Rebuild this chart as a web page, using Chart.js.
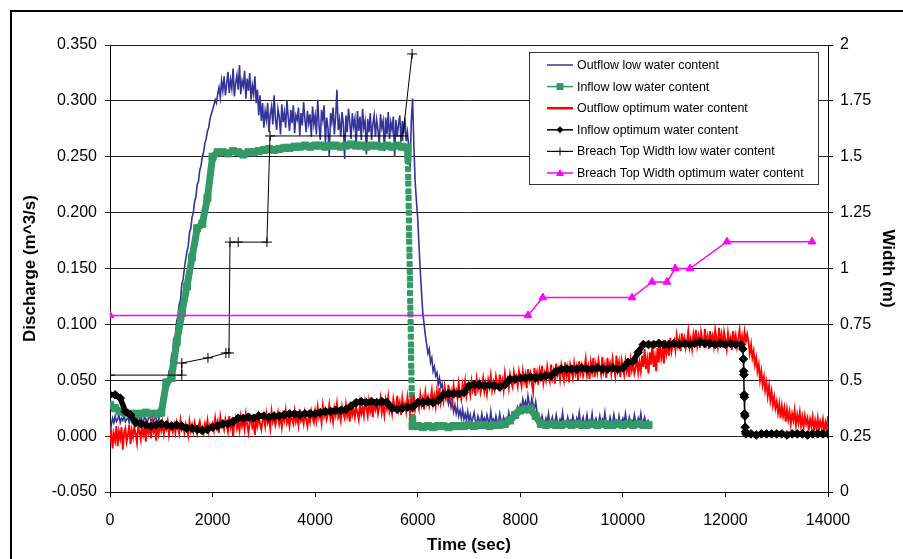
<!DOCTYPE html>
<html>
<head>
<meta charset="utf-8">
<title>Discharge and breach width</title>
<script src="https://cdn.jsdelivr.net/npm/chart.js@4/dist/chart.umd.min.js"></script>
<style>
  html, body { margin: 0; padding: 0; background: #ffffff; }
  canvas { display: block; }
</style>
</head>
<body>
<canvas id="chart" width="903" height="559"></canvas>
<script>
// ---- Recorded series -------------------------------------------------------
// Outflow records are logged every 25 s, inflow records every 100 s.
const OUTFLOW_STEP = 25;
const INFLOW_STEP = 100;

// Outflow, low water content (m^3/s), t = 0 … 10500 s (one row per 1000 s)
const outflowLow = [
  0.000, 0.010, 0.016, 0.012, 0.018, 0.013, 0.015, 0.019, 0.012, 0.016, 0.014, 0.018, 0.013, 0.015, 0.017, 0.012, 0.016, 0.014, 0.019, 0.013,
  0.015, 0.017, 0.012, 0.016, 0.018, 0.014, 0.013, 0.017, 0.015, 0.012, 0.016, 0.018, 0.014, 0.015, 0.013, 0.017, 0.016, 0.012, 0.015, 0.018,

  0.018, 0.022, 0.030, 0.033, 0.042, 0.045, 0.058, 0.060, 0.072, 0.076, 0.088, 0.090, 0.103, 0.107, 0.118, 0.122, 0.136, 0.140, 0.150, 0.158,
  0.165, 0.170, 0.182, 0.186, 0.196, 0.200, 0.210, 0.214, 0.225, 0.228, 0.238, 0.242, 0.250, 0.254, 0.262, 0.266, 0.273, 0.276, 0.284, 0.288,

  0.292, 0.296, 0.301, 0.298, 0.306, 0.312, 0.303, 0.318, 0.309, 0.322, 0.305, 0.315, 0.326, 0.307, 0.319, 0.311, 0.329, 0.304, 0.316, 0.323,
  0.310, 0.332, 0.306, 0.318, 0.313, 0.327, 0.302, 0.320, 0.309, 0.325, 0.301, 0.314, 0.306, 0.322, 0.298, 0.310, 0.287, 0.305, 0.282, 0.298,

  0.276, 0.291, 0.283, 0.298, 0.272, 0.288, 0.295, 0.279, 0.305, 0.284, 0.274, 0.293, 0.286, 0.270, 0.297, 0.281, 0.290, 0.276, 0.300, 0.285,
  0.273, 0.292, 0.280, 0.296, 0.271, 0.287, 0.283, 0.294, 0.269, 0.289, 0.278, 0.299, 0.284, 0.272, 0.291, 0.280, 0.288, 0.268, 0.295, 0.279,

  0.287, 0.270, 0.301, 0.279, 0.265, 0.292, 0.283, 0.296, 0.262, 0.285, 0.276, 0.250, 0.289, 0.281, 0.294, 0.270, 0.286, 0.310, 0.274, 0.283,
  0.268, 0.290, 0.279, 0.248, 0.287, 0.272, 0.293, 0.281, 0.266, 0.289, 0.277, 0.284, 0.258, 0.291, 0.273, 0.286, 0.265, 0.293, 0.276, 0.282,

  0.252, 0.284, 0.272, 0.289, 0.265, 0.279, 0.287, 0.268, 0.283, 0.274, 0.261, 0.288, 0.276, 0.282, 0.255, 0.285, 0.270, 0.290, 0.266, 0.281,
  0.274, 0.286, 0.250, 0.283, 0.268, 0.279, 0.287, 0.263, 0.282, 0.271, 0.285, 0.264, 0.272, 0.258, 0.240, 0.282, 0.302, 0.260, 0.228, 0.210,

  0.195, 0.170, 0.148, 0.128, 0.110, 0.100, 0.090, 0.082, 0.074, 0.078, 0.066, 0.070, 0.058, 0.062, 0.054, 0.057, 0.046, 0.052, 0.044, 0.047,
  0.036, 0.041, 0.033, 0.038, 0.029, 0.034, 0.026, 0.031, 0.022, 0.028, 0.020, 0.026, 0.018, 0.023, 0.016, 0.024, 0.015, 0.020, 0.014, 0.022,

  0.014, 0.019, 0.012, 0.016, 0.021, 0.013, 0.011, 0.018, 0.014, 0.012, 0.020, 0.013, 0.016, 0.011, 0.019, 0.014, 0.012, 0.022, 0.013, 0.015,
  0.011, 0.018, 0.013, 0.012, 0.020, 0.014, 0.011, 0.017, 0.013, 0.016, 0.012, 0.021, 0.014, 0.015, 0.019, 0.016, 0.022, 0.018, 0.026, 0.023,

  0.028, 0.025, 0.033, 0.027, 0.031, 0.024, 0.036, 0.029, 0.026, 0.034, 0.028, 0.024, 0.031, 0.022, 0.019, 0.017, 0.013, 0.018, 0.012, 0.011,
  0.016, 0.012, 0.020, 0.011, 0.013, 0.017, 0.010, 0.012, 0.019, 0.012, 0.011, 0.015, 0.012, 0.021, 0.011, 0.013, 0.010, 0.017, 0.012, 0.014,

  0.011, 0.018, 0.012, 0.010, 0.016, 0.012, 0.021, 0.011, 0.013, 0.017, 0.010, 0.012, 0.019, 0.011, 0.014, 0.012, 0.020, 0.010, 0.013, 0.016,
  0.011, 0.012, 0.018, 0.010, 0.015, 0.012, 0.021, 0.011, 0.013, 0.010, 0.017, 0.012, 0.011, 0.019, 0.012, 0.014, 0.010, 0.018, 0.011, 0.013,

  0.016, 0.011, 0.020, 0.012, 0.010, 0.017, 0.012, 0.014, 0.011, 0.019, 0.012, 0.010, 0.016, 0.012, 0.020, 0.011, 0.013, 0.017, 0.011, 0.012,
  0.015
];

// Inflow, low water content (m^3/s), t = 0 … 10500 s
const inflowLow = [
  0.028, 0.025, 0.022, 0.021, 0.020, 0.020, 0.020, 0.021, 0.020, 0.020,
  0.021, 0.048, 0.052, 0.084, 0.110, 0.134, 0.160, 0.186, 0.190, 0.213,
  0.250, 0.254, 0.254, 0.253, 0.255, 0.254, 0.252, 0.254, 0.254, 0.255,
  0.256, 0.257, 0.256, 0.257, 0.258, 0.258, 0.259, 0.259, 0.260, 0.259,
  0.260, 0.260, 0.259, 0.260, 0.260, 0.259, 0.260, 0.261, 0.260, 0.260,
  0.259, 0.260, 0.260, 0.259, 0.260, 0.259, 0.260, 0.259, 0.258, 0.009,
  0.009, 0.008, 0.009, 0.008, 0.009, 0.009, 0.008, 0.009, 0.009, 0.009,
  0.010, 0.009, 0.010, 0.010, 0.009, 0.010, 0.010, 0.011, 0.014, 0.019,
  0.023, 0.024, 0.024, 0.018, 0.011, 0.010, 0.011, 0.010, 0.010, 0.011,
  0.010, 0.011, 0.010, 0.010, 0.011, 0.010, 0.011, 0.010, 0.010, 0.011,
  0.010, 0.011, 0.010, 0.011, 0.010, 0.010
];
// Fast-logged readings while the inflow was shut off
const inflowLowDropTime = [
  5810, 5813, 5815, 5817, 5819, 5822, 5824, 5826, 5829, 5831, 5833, 5835,
  5838, 5840, 5842, 5845, 5847, 5849, 5851, 5854, 5856, 5858, 5861, 5863,
  5865, 5867, 5870, 5872, 5874, 5877, 5879, 5881, 5884, 5886, 5888, 5890
];
const inflowLowDrop = [
  0.246, 0.239, 0.232, 0.226, 0.219, 0.213, 0.206, 0.200, 0.193, 0.186, 0.180, 0.174,
  0.167, 0.161, 0.154, 0.147, 0.141, 0.135, 0.128, 0.121, 0.115, 0.109, 0.102, 0.096,
  0.089, 0.082, 0.076, 0.070, 0.063, 0.057, 0.050, 0.043, 0.037, 0.031, 0.024, 0.017
];

// Outflow, optimum water content (m^3/s), t = 0 … 14000 s (one row per 1000 s)
const outflowOpt = [
  -0.006, 0.006, -0.011, 0.002, -0.004, 0.009, -0.009, 0.004, -0.002, 0.008, -0.012, 0.003, 0.007, -0.005, 0.001, 0.010, -0.007, 0.005, -0.001, 0.008,
  0.002, -0.006, 0.009, 0.004, -0.003, 0.011, 0.001, 0.006, -0.005, 0.010, 0.003, 0.008, -0.002, 0.012, 0.004, 0.007, -0.004, 0.009, 0.002, 0.011,

  0.005, 0.012, 0.002, 0.009, 0.006, 0.013, 0.001, 0.008, 0.011, 0.004, 0.010, 0.003, 0.012, 0.007, 0.002, 0.014, 0.006, 0.009, 0.003, 0.011,
  0.008, 0.001, 0.013, 0.005, 0.010, 0.004, 0.012, 0.007, 0.002, 0.009, 0.013, 0.005, 0.008, 0.003, 0.011, 0.006, 0.014, 0.004, 0.010, 0.007,

  0.011, 0.005, 0.016, 0.008, 0.013, 0.003, 0.017, 0.009, 0.012, 0.006, 0.015, 0.010, 0.004, 0.018, 0.008, 0.013, 0.000, 0.011, 0.016, 0.007,
  0.012, 0.005, 0.017, 0.009, 0.014, 0.006, 0.019, 0.010, 0.003, 0.013, 0.016, 0.008, 0.012, 0.001, 0.015, 0.009, 0.018, 0.011, 0.006, 0.014,

  0.017, 0.009, 0.020, 0.012, 0.016, 0.007, 0.022, 0.013, 0.018, 0.010, 0.015, 0.021, 0.011, 0.017, 0.008, 0.019, 0.014, 0.023, 0.012, 0.016,
  0.009, 0.020, 0.015, 0.011, 0.022, 0.013, 0.018, 0.010, 0.024, 0.014, 0.017, 0.011, 0.021, 0.015, 0.009, 0.019, 0.013, 0.022, 0.016, 0.012,

  0.022, 0.014, 0.026, 0.017, 0.021, 0.012, 0.027, 0.018, 0.023, 0.015, 0.020, 0.028, 0.016, 0.022, 0.013, 0.025, 0.019, 0.029, 0.017, 0.021,
  0.014, 0.026, 0.020, 0.016, 0.028, 0.018, 0.023, 0.013, 0.030, 0.019, 0.024, 0.017, 0.027, 0.021, 0.015, 0.029, 0.020, 0.025, 0.018, 0.031,

  0.025, 0.018, 0.031, 0.022, 0.027, 0.017, 0.033, 0.024, 0.029, 0.020, 0.026, 0.034, 0.021, 0.028, 0.019, 0.032, 0.025, 0.035, 0.022, 0.027,
  0.020, 0.033, 0.026, 0.023, 0.036, 0.024, 0.030, 0.019, 0.034, 0.025, 0.029, 0.022, 0.035, 0.027, 0.021, 0.033, 0.026, 0.037, 0.024, 0.030,

  0.032, 0.025, 0.037, 0.028, 0.034, 0.024, 0.039, 0.030, 0.035, 0.027, 0.033, 0.041, 0.029, 0.036, 0.027, 0.040, 0.032, 0.043, 0.030, 0.037,
  0.031, 0.044, 0.036, 0.033, 0.046, 0.034, 0.040, 0.031, 0.045, 0.037, 0.041, 0.034, 0.047, 0.038, 0.033, 0.046, 0.039, 0.049, 0.036, 0.043,

  0.044, 0.037, 0.049, 0.041, 0.046, 0.036, 0.051, 0.042, 0.048, 0.039, 0.045, 0.052, 0.040, 0.047, 0.038, 0.050, 0.044, 0.054, 0.041, 0.048,
  0.042, 0.053, 0.046, 0.043, 0.055, 0.044, 0.050, 0.041, 0.056, 0.047, 0.051, 0.043, 0.055, 0.048, 0.044, 0.057, 0.049, 0.053, 0.045, 0.058,

  0.052, 0.045, 0.058, 0.049, 0.055, 0.043, 0.060, 0.050, 0.056, 0.047, 0.040, 0.061, 0.051, 0.057, 0.046, 0.059, 0.053, 0.063, 0.048, 0.056,
  0.050, 0.062, 0.054, 0.049, 0.064, 0.052, 0.058, 0.047, 0.065, 0.055, 0.060, 0.051, 0.063, 0.056, 0.050, 0.066, 0.054, 0.061, 0.048, 0.064,

  0.059, 0.052, 0.065, 0.056, 0.062, 0.050, 0.067, 0.057, 0.063, 0.054, 0.060, 0.069, 0.055, 0.062, 0.051, 0.066, 0.058, 0.070, 0.053, 0.064,
  0.057, 0.068, 0.061, 0.055, 0.071, 0.058, 0.064, 0.052, 0.070, 0.060, 0.065, 0.056, 0.069, 0.061, 0.054, 0.072, 0.059, 0.066, 0.053, 0.068,

  0.062, 0.055, 0.067, 0.058, 0.064, 0.053, 0.068, 0.059, 0.065, 0.056, 0.061, 0.070, 0.057, 0.066, 0.058, 0.072, 0.062, 0.078, 0.060, 0.069,
  0.056, 0.075, 0.064, 0.082, 0.062, 0.071, 0.058, 0.079, 0.066, 0.084, 0.070, 0.077, 0.065, 0.086, 0.074, 0.081, 0.072, 0.088, 0.076, 0.083,

  0.086, 0.077, 0.090, 0.081, 0.087, 0.076, 0.092, 0.083, 0.088, 0.079, 0.085, 0.094, 0.080, 0.087, 0.078, 0.091, 0.084, 0.095, 0.081, 0.089,
  0.079, 0.093, 0.086, 0.082, 0.096, 0.083, 0.089, 0.078, 0.094, 0.085, 0.090, 0.081, 0.095, 0.087, 0.080, 0.097, 0.084, 0.091, 0.079, 0.093,

  0.086, 0.078, 0.092, 0.083, 0.088, 0.077, 0.094, 0.084, 0.090, 0.080, 0.087, 0.095, 0.082, 0.089, 0.079, 0.093, 0.085, 0.091, 0.084, 0.074,
  0.082, 0.070, 0.076, 0.064, 0.070, 0.058, 0.064, 0.050, 0.058, 0.046, 0.053, 0.041, 0.048, 0.036, 0.045, 0.032, 0.040, 0.028, 0.035, 0.025,

  0.031, 0.021, 0.029, 0.016, 0.027, 0.018, 0.025, 0.013, 0.024, 0.015, 0.022, 0.011, 0.020, 0.014, 0.023, 0.010, 0.019, 0.012, 0.021, 0.009,
  0.017, 0.008, 0.018, 0.011, 0.016, 0.006, 0.015, 0.009, 0.017, 0.005, 0.014, 0.007, 0.016, 0.005, 0.013, 0.008, 0.015, 0.004, 0.012, 0.006,

  0.018
];

// Inflow, optimum water content (m^3/s), t = 0 … 14000 s
const inflowOpt = [
  0.037, 0.037, 0.034, 0.022, 0.019, 0.012, 0.011, 0.010, 0.009, 0.010,
  0.011, 0.010, 0.009, 0.010, 0.009, 0.007, 0.007, 0.006, 0.005, 0.006,
  0.008, 0.009, 0.011, 0.011, 0.013, 0.016, 0.016, 0.017, 0.016, 0.018,
  0.018, 0.017, 0.018, 0.018, 0.019, 0.020, 0.020, 0.019, 0.020, 0.020,
  0.020, 0.021, 0.022, 0.022, 0.023, 0.023, 0.024, 0.027, 0.030, 0.031,
  0.030, 0.031, 0.030, 0.031, 0.030, 0.025, 0.024, 0.025, 0.026, 0.026,
  0.030, 0.030, 0.031, 0.030, 0.032, 0.037, 0.038, 0.038, 0.038, 0.039,
  0.045, 0.046, 0.046, 0.045, 0.046, 0.045, 0.044, 0.046, 0.051, 0.051,
  0.052, 0.052, 0.053, 0.052, 0.053, 0.054, 0.054, 0.058, 0.060, 0.060,
  0.060, 0.060, 0.061, 0.060, 0.060, 0.061, 0.060, 0.060, 0.061, 0.060,
  0.061, 0.066, 0.067, 0.075, 0.082, 0.082, 0.082, 0.083, 0.082, 0.082,
  0.083, 0.082, 0.083, 0.082, 0.083, 0.084, 0.083, 0.083, 0.082, 0.083,
  0.082, 0.083, 0.082, 0.082, 0.002, 0.002, 0.001, 0.002, 0.002, 0.002,
  0.002, 0.002, 0.001, 0.002, 0.002, 0.002, 0.001, 0.002, 0.002, 0.002,
  0.002
];
const inflowOptDropTime = [12340, 12350, 12355, 12360, 12365, 12370, 12375, 12380, 12385, 12392];
const inflowOptDrop = [0.078, 0.069, 0.058, 0.055, 0.037, 0.035, 0.020, 0.018, 0.008, 0.004];

// Breach top width (m)
const breachLowTime = [0, 1400, 1400, 1910, 2260, 2320, 2340, 2500, 3060, 3120, 5710, 5890];
const breachLow = [0.523, 0.523, 0.577, 0.600, 0.622, 0.622, 1.118, 1.118, 1.118, 1.593, 1.593, 1.960];
const breachOptTime = [0, 8150, 8440, 10180, 10570, 10860, 11020, 11310, 12030, 13690];
const breachOpt = [0.79, 0.79, 0.87, 0.87, 0.94, 0.94, 1.00, 1.00, 1.12, 1.12];

const seriesNames = [
  'Outflow low water content',
  'Inflow low water content',
  'Outflow optimum water content',
  'Inflow optimum water content',
  'Breach Top Width low water content',
  'Breach Top Width optimum water content'
];

// ---- Point tables ------------------------------------------------------------
const regular = (vals, step) => vals.map((v, i) => ({ x: i * step, y: v }));
const paired = (ts, vs) => ts.map((t, i) => ({ x: t, y: vs[i] }));
const merged = (a, b) => a.concat(b).sort((p, q) => p.x - q.x);
const within = (ts, x) => x >= ts[0] && x <= ts[ts.length - 1];

const FONT = "'Liberation Sans', Arial, Helvetica, sans-serif";

// ---- Page frame and legend box -------------------------------------------------
const framePlugin = {
  id: 'frame',
  beforeDraw(chart) {
    const ctx = chart.ctx;
    ctx.save();
    ctx.fillStyle = '#ffffff';
    ctx.fillRect(0, 0, chart.width, chart.height);
    ctx.strokeStyle = '#000000';
    ctx.lineWidth = 2;
    ctx.beginPath();
    ctx.moveTo(11, chart.height + 5);
    ctx.lineTo(11, 11);
    ctx.lineTo(chart.width + 5, 11);
    ctx.stroke();
    ctx.restore();
  }
};

function drawMarker(ctx, style, x, y, r, color) {
  ctx.save();
  ctx.fillStyle = color;
  ctx.strokeStyle = color;
  ctx.lineWidth = 1;
  ctx.beginPath();
  if (style === 'rect') {
    ctx.rect(x - r, y - r, 2 * r, 2 * r);
    ctx.fill();
  } else if (style === 'rectRot') {
    ctx.moveTo(x, y - r); ctx.lineTo(x + r, y); ctx.lineTo(x, y + r); ctx.lineTo(x - r, y);
    ctx.closePath(); ctx.fill();
  } else if (style === 'triangle') {
    ctx.moveTo(x, y - r); ctx.lineTo(x + r, y + r * 0.75); ctx.lineTo(x - r, y + r * 0.75);
    ctx.closePath(); ctx.fill();
  } else if (style === 'cross') {
    ctx.moveTo(x, y - r); ctx.lineTo(x, y + r);
    ctx.moveTo(x - r, y); ctx.lineTo(x + r, y);
    ctx.stroke();
  }
  ctx.restore();
}

const legendPlugin = {
  id: 'boxLegend',
  afterDraw(chart) {
    const ctx = chart.ctx;
    const box = { x: 529.5, y: 52.5, w: 289, h: 132 };
    ctx.save();
    ctx.fillStyle = '#ffffff';
    ctx.fillRect(box.x, box.y, box.w, box.h);
    ctx.strokeStyle = '#333333';
    ctx.lineWidth = 1;
    ctx.strokeRect(box.x, box.y, box.w, box.h);
    ctx.font = '12.4px ' + FONT;
    ctx.textBaseline = 'middle';
    ctx.textAlign = 'left';
    chart.data.datasets.forEach((ds, i) => {
      const y = 65 + i * 21.6;
      ctx.strokeStyle = ds.borderColor;
      ctx.lineWidth = ds.legendLine;
      ctx.beginPath();
      ctx.moveTo(547, y);
      ctx.lineTo(573, y);
      ctx.stroke();
      if (ds.legendMarker > 0) {
        drawMarker(ctx, ds.pointStyle, 560, y, ds.legendMarker, ds.borderColor);
      }
      ctx.fillStyle = '#000000';
      ctx.fillText(ds.label, 577, y + 0.5);
    });
    ctx.restore();
  }
};

// ---- Chart ---------------------------------------------------------------------
new Chart(document.getElementById('chart'), {
  type: 'line',
  data: {
    datasets: [
      {
        label: seriesNames[0],
        data: regular(outflowLow, OUTFLOW_STEP),
        yAxisID: 'y',
        borderColor: '#333399',
        borderWidth: 1.6,
        pointRadius: 0,
        legendLine: 1.5, legendMarker: 0,
        order: 6
      },
      {
        label: seriesNames[1],
        data: merged(regular(inflowLow, INFLOW_STEP), paired(inflowLowDropTime, inflowLowDrop)),
        yAxisID: 'y',
        borderColor: '#339966',
        backgroundColor: '#339966',
        borderWidth: 7,
        borderJoinStyle: 'round',
        pointStyle: 'rect',
        pointRadius: c => (c.raw && within(inflowLowDropTime, c.raw.x)) ? 3.6 : 5,
        pointBorderWidth: 1,
        segment: {
          borderColor: s => (within(inflowLowDropTime, s.p0.parsed.x) && within(inflowLowDropTime, s.p1.parsed.x)) ? 'rgba(0,0,0,0)' : undefined
        },
        legendLine: 1.5, legendMarker: 3.5,
        order: 5
      },
      {
        label: seriesNames[2],
        data: regular(outflowOpt, OUTFLOW_STEP),
        yAxisID: 'y',
        borderColor: '#ff0000',
        borderWidth: 1.9,
        pointRadius: 0,
        legendLine: 2.5, legendMarker: 0,
        order: 4
      },
      {
        label: seriesNames[3],
        data: merged(regular(inflowOpt, INFLOW_STEP), paired(inflowOptDropTime, inflowOptDrop)),
        yAxisID: 'y',
        borderColor: '#000000',
        backgroundColor: '#000000',
        borderWidth: 5.5,
        borderJoinStyle: 'round',
        pointStyle: 'rectRot',
        pointRadius: 4.3,
        pointBorderWidth: 1,
        segment: {
          borderWidth: s => (s.p0.parsed.x >= 12300 && s.p1.parsed.x <= 12400) ? 1.5 : undefined
        },
        legendLine: 1.5, legendMarker: 3.5,
        order: 3
      },
      {
        label: seriesNames[4],
        data: paired(breachLowTime, breachLow),
        yAxisID: 'y1',
        borderColor: '#000000',
        backgroundColor: '#000000',
        borderWidth: 1,
        pointStyle: 'cross',
        pointRadius: 5,
        pointBorderWidth: 1,
        legendLine: 1.2, legendMarker: 4,
        order: 2
      },
      {
        label: seriesNames[5],
        data: paired(breachOptTime, breachOpt),
        yAxisID: 'y1',
        borderColor: '#ff00ff',
        backgroundColor: '#ff00ff',
        borderWidth: 1.5,
        pointStyle: 'triangle',
        pointRadius: 4.5,
        pointBorderWidth: 1,
        legendLine: 1.5, legendMarker: 4,
        order: 1
      }
    ]
  },
  options: {
    responsive: false,
    animation: false,
    devicePixelRatio: 1,
    elements: { line: { tension: 0 } },
    layout: { padding: { top: 45, left: 0, right: 0, bottom: 0 } },
    plugins: {
      legend: { display: false },
      tooltip: { enabled: false }
    },
    scales: {
      x: {
        type: 'linear',
        min: 0,
        max: 14000,
        afterFit(scale) { scale.height = 67; },
        ticks: {
          stepSize: 2000,
          color: '#000000',
          font: { family: FONT, size: 16 },
          padding: 14,
          maxRotation: 0,
          callback: v => String(v)
        },
        grid: { drawOnChartArea: false, drawTicks: true, tickLength: 5, color: '#000000' },
        border: { display: true, color: '#000000', width: 1 },
        title: {
          display: true,
          text: 'Time (sec)',
          color: '#000000',
          font: { family: FONT, size: 17, weight: 'bold' },
          padding: { top: 0, bottom: 3 }
        }
      },
      y: {
        type: 'linear',
        position: 'left',
        min: -0.05,
        max: 0.35,
        afterFit(scale) { scale.width = 110; },
        ticks: {
          stepSize: 0.05,
          color: '#000000',
          font: { family: FONT, size: 16 },
          padding: 8,
          callback: v => (Math.abs(v) < 1e-9 ? 0 : Number(v)).toFixed(3)
        },
        grid: { drawOnChartArea: true, drawTicks: true, tickLength: 5, color: '#222222', lineWidth: 1 },
        border: { display: true, color: '#000000', width: 1 },
        title: {
          display: true,
          text: 'Discharge (m^3/s)',
          color: '#000000',
          font: { family: FONT, size: 17, weight: 'bold' },
          padding: { top: 20, bottom: 0 }
        }
      },
      y1: {
        type: 'linear',
        position: 'right',
        min: 0,
        max: 2,
        afterFit(scale) { scale.width = 75; },
        ticks: {
          stepSize: 0.25,
          color: '#000000',
          font: { family: FONT, size: 16 },
          padding: 7,
          callback: v => String(Number(Number(v).toFixed(2)))
        },
        grid: { drawOnChartArea: false, drawTicks: true, tickLength: 5, color: '#000000' },
        border: { display: true, color: '#000000', width: 1 },
        title: {
          display: true,
          text: 'Width (m)',
          color: '#000000',
          font: { family: FONT, size: 17, weight: 'bold' },
          padding: { top: 5, bottom: 0 }
        }
      }
    }
  },
  plugins: [framePlugin, legendPlugin]
});
</script>
</body>
</html>
